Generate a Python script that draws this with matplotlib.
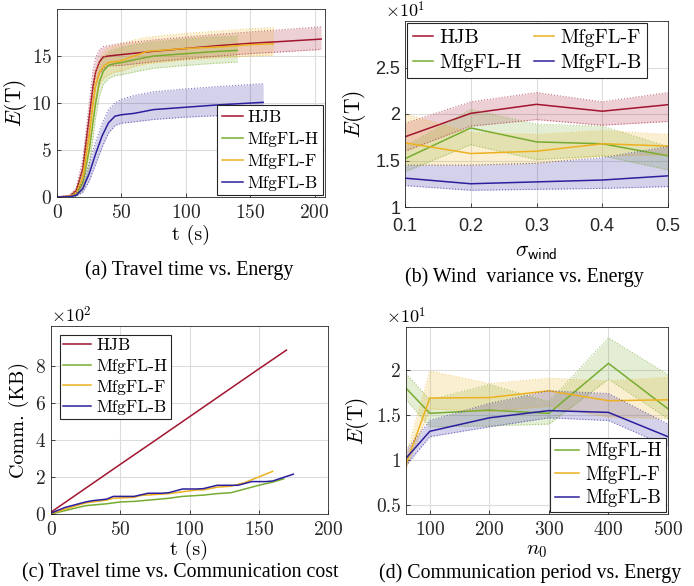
import numpy as np
import matplotlib
matplotlib.use("Agg")
import matplotlib.pyplot as plt

plt.rcParams['font.family'] = ['cmr10', 'DejaVu Sans']
plt.rcParams['mathtext.fontset'] = 'cm'
plt.rcParams['axes.formatter.use_mathtext'] = True
plt.rcParams['axes.unicode_minus'] = False

names = ['HJB', 'MfgFL-H', 'MfgFL-F', 'MfgFL-B']
colors = {'HJB': '#A2142F', 'MfgFL-H': '#77AC30', 'MfgFL-F': '#EDB120', 'MfgFL-B': '#2B1F9E'}

# (a) travel time vs energy
t_hjb = [0, 10, 15, 20, 25, 28, 30, 33, 36, 40, 50, 75, 100, 125, 150, 175, 205]
e_hjb = [0, 0.1, 0.7, 3, 8.5, 11.8, 13.3, 14.4, 14.9, 15.0, 15.15, 15.5, 15.8, 16.1, 16.35, 16.55, 16.8]
e_hjb_hi = [0, 0.2, 1.0, 4, 10, 13.5, 14.8, 15.7, 16.0, 16.1, 16.35, 16.7, 17.0, 17.3, 17.55, 17.8, 18.1]
e_hjb_lo = [0, 0.05, 0.4, 2, 7, 10, 11.8, 13.1, 13.7, 13.95, 14.0, 14.4, 14.7, 15.0, 15.25, 15.45, 15.7]

t_f = [0, 10, 15, 20, 25, 28, 30, 33, 36, 40, 45, 50, 60, 70, 100, 130, 150, 168]
e_f = [0, 0.05, 0.4, 2, 6.5, 10, 12, 13.3, 13.9, 14.3, 14.4, 14.5, 15.0, 15.5, 15.8, 16.0, 16.2, 16.3]
e_f_hi = [0, 0.1, 0.7, 3, 8, 11.5, 13.3, 14.6, 15.4, 15.9, 16.1, 16.3, 16.7, 17.0, 17.4, 17.7, 17.9, 18.0]
e_f_lo = [0, 0.02, 0.2, 1, 5, 8.5, 10.5, 12, 12.6, 13.0, 13.3, 13.4, 13.9, 14.2, 14.6, 14.85, 15.0, 15.1]

t_h = [0, 10, 15, 20, 25, 30, 33, 36, 40, 45, 50, 60, 75, 100, 120, 140]
e_h = [0, 0.03, 0.3, 1.5, 5, 10, 12.3, 13.4, 14.0, 14.2, 14.3, 14.6, 15.0, 15.25, 15.45, 15.6]
e_h_hi = [0, 0.08, 0.6, 2.5, 7, 11.6, 13.8, 14.8, 15.4, 15.7, 15.9, 16.2, 16.5, 16.8, 17.0, 17.1]
e_h_lo = [0, 0.01, 0.1, 0.7, 3.2, 8.5, 10.8, 12.0, 12.6, 12.9, 13.0, 13.3, 13.7, 14.0, 14.2, 14.35]

t_b = [0, 10, 15, 20, 25, 30, 35, 40, 45, 50, 60, 75, 100, 125, 160]
e_b = [0, 0.02, 0.2, 0.9, 2.5, 4.6, 6.5, 7.9, 8.6, 8.75, 8.9, 9.3, 9.55, 9.8, 10.07]
e_b_hi = [0, 0.05, 0.4, 1.6, 3.6, 5.9, 7.8, 9.3, 10.0, 10.4, 10.8, 11.2, 11.5, 11.75, 12.05]
e_b_lo = [0, 0.01, 0.1, 0.5, 1.7, 3.5, 5.3, 6.8, 7.6, 7.85, 8.0, 8.25, 8.5, 8.65, 8.8]

# (b) wind variance vs energy (x10)
sigma = [0.1, 0.2, 0.3, 0.4, 0.5]
w_hjb = [1.755, 2.007, 2.104, 2.03, 2.10]
w_hjb_hi = [1.90, 2.13, 2.23, 2.13, 2.23]
w_hjb_lo = [1.60, 1.87, 1.94, 1.88, 1.92]
w_h = [1.52, 1.85, 1.70, 1.68, 1.55]
w_h_hi = [1.65, 2.05, 1.89, 1.87, 1.65]
w_h_lo = [1.38, 1.67, 1.51, 1.55, 1.40]
w_f = [1.69, 1.575, 1.60, 1.68, 1.655]
w_f_hi = [2.0, 1.80, 1.78, 1.82, 1.78]
w_f_lo = [1.45, 1.45, 1.47, 1.55, 1.56]
w_b = [1.31, 1.25, 1.27, 1.29, 1.335]
w_b_hi = [1.45, 1.45, 1.47, 1.53, 1.65]
w_b_lo = [1.23, 1.18, 1.19, 1.20, 1.22]

# (c) travel time vs communication cost (x100 KB)
c_t_hjb = [0, 25, 50, 75, 100, 125, 150, 170]
c_hjb = [0.1, 1.39, 2.68, 3.96, 5.25, 6.54, 7.83, 8.85]
c_t_h = [0, 25, 40, 50, 60, 75, 85, 95, 110, 120, 130, 140, 150, 160, 168]
c_h = [0.0, 0.45, 0.55, 0.65, 0.68, 0.78, 0.85, 0.95, 1.02, 1.1, 1.15, 1.35, 1.55, 1.72, 1.9]
c_t_f = [0, 25, 40, 45, 60, 65, 75, 85, 95, 105, 110, 120, 130, 140, 150, 160]
c_f = [0.03, 0.6, 0.75, 0.85, 0.9, 1.0, 1.05, 1.1, 1.2, 1.3, 1.3, 1.45, 1.5, 1.7, 2.0, 2.3]
c_t_b = [0, 10, 25, 30, 40, 45, 55, 60, 70, 80, 85, 95, 105, 110, 120, 135, 145, 155, 160, 175]
c_b = [0.05, 0.35, 0.65, 0.72, 0.8, 0.95, 0.95, 0.95, 1.12, 1.12, 1.15, 1.35, 1.35, 1.37, 1.55, 1.55, 1.75, 1.75, 1.78, 2.15]

# (d) communication period vs energy (x10)
n0 = [60, 100, 200, 300, 400, 500]
d_h = [1.80, 1.52, 1.555, 1.52, 2.075, 1.57]
d_h_hi = [1.96, 1.67, 1.84, 1.65, 2.36, 1.95]
d_h_lo = [1.67, 1.37, 1.38, 1.40, 1.90, 1.46]
d_f = [0.955, 1.69, 1.695, 1.77, 1.66, 1.67]
d_f_hi = [1.05, 1.99, 1.85, 1.91, 1.88, 1.92]
d_f_lo = [0.90, 1.57, 1.54, 1.60, 1.48, 1.46]
d_b = [1.02, 1.32, 1.47, 1.55, 1.53, 1.26]
d_b_hi = [1.105, 1.44, 1.63, 1.77, 1.74, 1.40]
d_b_lo = [0.94, 1.26, 1.37, 1.47, 1.44, 1.15]

W, H = 694, 586
fig = plt.figure(figsize=(W / 100, H / 100), dpi=100)


def add_ax(l, t, r, b):
    return fig.add_axes([l / W, 1 - b / H, (r - l) / W, (b - t) / H])


def style(ax):
    ax.grid(True, color='#dcdcdc', linewidth=0.8)
    ax.set_axisbelow(True)
    ax.tick_params(direction='in', length=3, labelsize=14, colors='#262626', width=0.6)
    ax.tick_params(axis='x', pad=5)
    for s in ax.spines.values():
        s.set_color('#262626')
        s.set_linewidth(0.6)


def band(ax, x, y, lo, hi, c, label=None):
    ax.fill_between(x, lo, hi, color=c, alpha=0.2, linewidth=0)
    ax.plot(x, lo, ':', color=c, linewidth=0.8, alpha=0.6)
    ax.plot(x, hi, ':', color=c, linewidth=0.8, alpha=0.6)
    return ax.plot(x, y, color=c, linewidth=1.1, label=label)[0]


def frame(leg):
    leg.get_frame().set_edgecolor('#262626')
    leg.get_frame().set_linewidth(0.8)


caption_font = dict(family='Liberation Serif', fontsize=14.3)

# (a)
ax = add_ax(57, 9, 325, 197)
style(ax)
hs = [band(ax, t_hjb, e_hjb, e_hjb_lo, e_hjb_hi, colors['HJB'], 'HJB'),
      band(ax, t_h, e_h, e_h_lo, e_h_hi, colors['MfgFL-H'], 'MfgFL-H'),
      band(ax, t_f, e_f, e_f_lo, e_f_hi, colors['MfgFL-F'], 'MfgFL-F'),
      band(ax, t_b, e_b, e_b_lo, e_b_hi, colors['MfgFL-B'], 'MfgFL-B')]
ax.set_xlim(0, 208)
ax.set_ylim(0, 20)
ax.set_yticks([0, 5, 10, 15])
ax.set_xticks([0, 50, 100, 150, 200])
ax.set_xlabel('t (s)', fontsize=14.5, labelpad=2)
ax.set_ylabel(r'$E(\mathrm{T})$', fontsize=15.5, labelpad=2)
leg = ax.legend(handles=hs, loc='lower right', fontsize=12.5, handlelength=1.2, handletextpad=0.3,
                borderaxespad=0.1, borderpad=0.25, labelspacing=0.38, fancybox=False, framealpha=1)
frame(leg)
fig.text(189 / W, 1 - 270 / H, '(a) Travel time vs. Energy', ha='center', va='center', **caption_font)

# (b)
ax = add_ax(405, 21, 668, 207)
style(ax)
hs = [band(ax, sigma, w_hjb, w_hjb_lo, w_hjb_hi, colors['HJB'], 'HJB'),
      band(ax, sigma, w_h, w_h_lo, w_h_hi, colors['MfgFL-H'], 'MfgFL-H'),
      band(ax, sigma, w_f, w_f_lo, w_f_hi, colors['MfgFL-F'], 'MfgFL-F'),
      band(ax, sigma, w_b, w_b_lo, w_b_hi, colors['MfgFL-B'], 'MfgFL-B')]
ax.set_xlim(0.1, 0.5)
ax.set_ylim(1, 3)
ax.set_yticks([1, 1.5, 2, 2.5])
ax.set_yticklabels(['1', '1.5', '2', '2.5'])
ax.set_xticks(sigma)
ax.set_xticklabels(['0.1', '0.2', '0.3', '0.4', '0.5'])
ax.tick_params(axis='x', pad=8)
for lab in ax.get_xticklabels() + ax.get_yticklabels():
    lab.set_family('Liberation Sans')
    lab.set_fontsize(13)
ax.set_xlabel(r'$\sigma_{\mathsf{wind}}$', fontsize=15.5, labelpad=5)
ax.set_ylabel(r'$E(\mathrm{T})$', fontsize=15.5, labelpad=5)
ax.text(0, 1.005, r'$\times10^1$', transform=ax.transAxes, fontsize=13, ha='center', va='bottom')
leg = ax.legend(handles=hs, loc='upper left', ncol=2, fontsize=14.5, handlelength=1.0, handletextpad=0.3,
                columnspacing=0.6, borderaxespad=0.1, borderpad=0.3, labelspacing=0.35, fancybox=False,
                framealpha=1)
frame(leg)
fig.text(524 / W, 1 - 277 / H, '(b) Wind  variance vs. Energy', ha='center', va='center', **caption_font)

# (c)
ax = add_ax(51, 326, 328, 514)
style(ax)
hs = [ax.plot(c_t_hjb, c_hjb, color=colors['HJB'], linewidth=1.1, label='HJB')[0],
      ax.plot(c_t_h, c_h, color=colors['MfgFL-H'], linewidth=1.1, label='MfgFL-H')[0],
      ax.plot(c_t_f, c_f, color=colors['MfgFL-F'], linewidth=1.1, label='MfgFL-F')[0],
      ax.plot(c_t_b, c_b, color=colors['MfgFL-B'], linewidth=1.1, label='MfgFL-B')[0]]
ax.set_xlim(0, 200)
ax.set_ylim(0, 10.15)
ax.set_yticks([0, 2, 4, 6, 8])
ax.set_xticks([0, 50, 100, 150, 200])
ax.set_xlabel('t (s)', fontsize=14.5, labelpad=1)
ax.set_ylabel('Comm. (KB)', fontsize=14.5, labelpad=4)
ax.text(0, 1.005, r'$\times10^2$', transform=ax.transAxes, fontsize=13, ha='left', va='bottom')
leg = ax.legend(handles=hs, loc='upper left', fontsize=12.5, handlelength=1.6, handletextpad=0.3,
                borderaxespad=0.5, borderpad=0.2, labelspacing=0.3, fancybox=False, framealpha=1)
frame(leg)
fig.text(180 / W, 1 - 573 / H, '(c) Travel time vs. Communication cost', ha='center', va='center', **caption_font)

# (d)
ax = add_ax(406, 327, 668, 514)
style(ax)
hs = [band(ax, n0, d_h, d_h_lo, d_h_hi, colors['MfgFL-H'], 'MfgFL-H'),
      band(ax, n0, d_f, d_f_lo, d_f_hi, colors['MfgFL-F'], 'MfgFL-F'),
      band(ax, n0, d_b, d_b_lo, d_b_hi, colors['MfgFL-B'], 'MfgFL-B')]
ax.set_xlim(60, 500)
ax.set_ylim(0.4, 2.48)
ax.set_yticks([0.5, 1, 1.5, 2])
ax.set_yticklabels(['0.5', '1', '1.5', '2'])
ax.set_xticks([100, 200, 300, 400, 500])
ax.set_xlabel(r'$n_0$', fontsize=15, labelpad=2)
ax.set_ylabel(r'$E(\mathrm{T})$', fontsize=15.5, labelpad=4)
ax.text(0, 1.005, r'$\times10^1$', transform=ax.transAxes, fontsize=13, ha='center', va='bottom')
leg = ax.legend(handles=hs, loc='lower right', fontsize=13.5, handlelength=1.3, handletextpad=0.3,
                borderaxespad=0.1, borderpad=0.25, labelspacing=0.3, fancybox=False, framealpha=1)
frame(leg)
fig.text(530 / W, 1 - 573 / H, '(d) Communication period vs. Energy', ha='center', va='center', **caption_font)

fig.savefig('out.png', dpi=100)
